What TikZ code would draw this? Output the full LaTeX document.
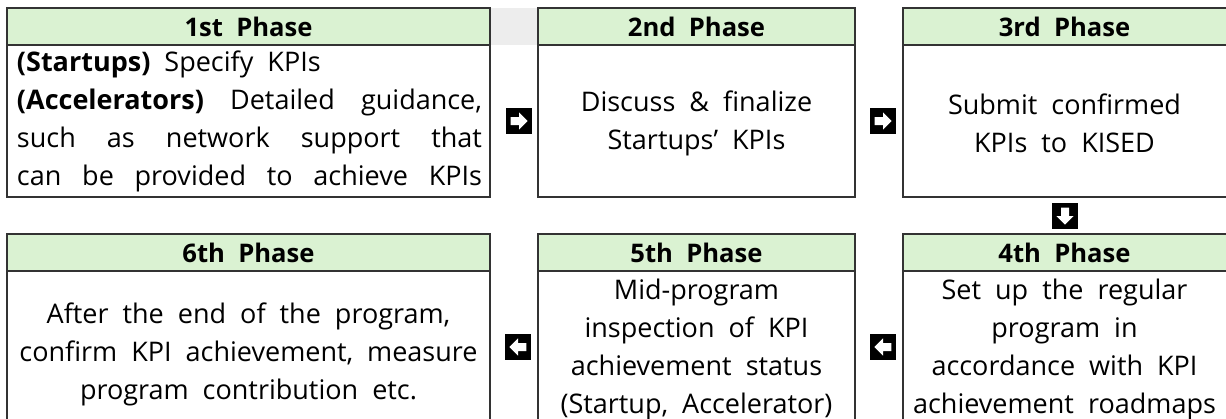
\documentclass[tikz,border=0pt]{standalone}
\usepackage{fontspec}
\setmainfont{Open Sans}[WordSpace=2.0, Ligatures=NoCommon]
\definecolor{headgreen}{RGB}{218,242,210}
\definecolor{boxgray}{RGB}{51,51,51}
\newcommand\jline[1]{\makebox[232.5pt][s]{#1}}
\tikzset{
  boxline/.style={draw=boxgray, line width=0.8pt},
  phase/.style={font=\fontsize{12.8}{17}\selectfont\bfseries, inner sep=0pt},
  body/.style={font=\fontsize{13.5}{19}\selectfont, align=center, inner sep=0pt},
  flowmark/.style={fill=black, minimum size=13.4pt, inner sep=0pt,
    path picture={\fill[white, shift={(path picture bounding box.center)}]
      (-4.2pt,-2pt) -- (0pt,-2pt) -- (0pt,-4.3pt) -- (4.3pt,0pt) -- (0pt,4.3pt) -- (0pt,2pt) -- (-4.2pt,2pt) -- cycle;}}
}
\begin{document}
\begin{tikzpicture}[x=0.5pt,y=-0.5pt]
\useasboundingbox (0,0) rectangle (1226,418);
\fill[black!7] (490,8) rectangle (538,45);
\foreach \l/\r/\t/\b in {7/490/8/197, 538/855/8/197, 903/1227/8/197, 7/490/234/421, 538/855/234/421, 903/1227/234/421}{
  \fill[headgreen] (\l,\t) rectangle (\r,\t+37);
  \draw[boxline] (\l,\t) rectangle (\r,\b);
  \draw[boxline] (\l,\t+37) -- (\r,\t+37);
}
\node[phase] (p1) at (248.5,27) {1st Phase};
\node[phase] (p2) at (696.5,27) {2nd Phase};
\node[phase] (p3) at (1064.5,27) {3rd Phase};
\node[phase] (p4) at (1064.5,253) {4th Phase};
\node[phase] (p5) at (696.5,253) {5th Phase};
\node[phase] (p6) at (248.5,253) {6th Phase};
\node[body, text width=232.5pt, align=left] (t1) at (249.5,121)
  {\spaceskip=0pt \xspaceskip=0pt
   {\bfseries (Startups)} Specify KPIs\\
   \jline{{\bfseries (Accelerators)} Detailed guidance,}\\
   \jline{such as network support that}\\
   \jline{can be provided to achieve KPIs}};
\node[body] (t2) at (696.5,123) {Discuss \& finalize\\Startups’ KPIs};
\node[body] (t3) at (1064.5,123) {Submit confirmed\\KPIs to KISED};
\node[body] (t4) at (1064.5,349) {Set up the regular\\program in\\accordance with KPI\\achievement roadmaps};
\node[body] (t5) at (696.5,349) {Mid-program\\inspection of KPI\\achievement status\\(Startup, Accelerator)};
\node[body] (t6) at (248.5,354) {After the end of the program,\\confirm KPI achievement, measure\\program contribution etc.};
\node[flowmark] (m12) at (519,121) {};
\node[flowmark] (m23) at (883,121) {};
\node[flowmark, rotate=-90] (m34) at (1065,216) {};
\node[flowmark, rotate=180] (m45) at (883,347) {};
\node[flowmark, rotate=180] (m56) at (518,347) {};
\end{tikzpicture}
\end{document}
